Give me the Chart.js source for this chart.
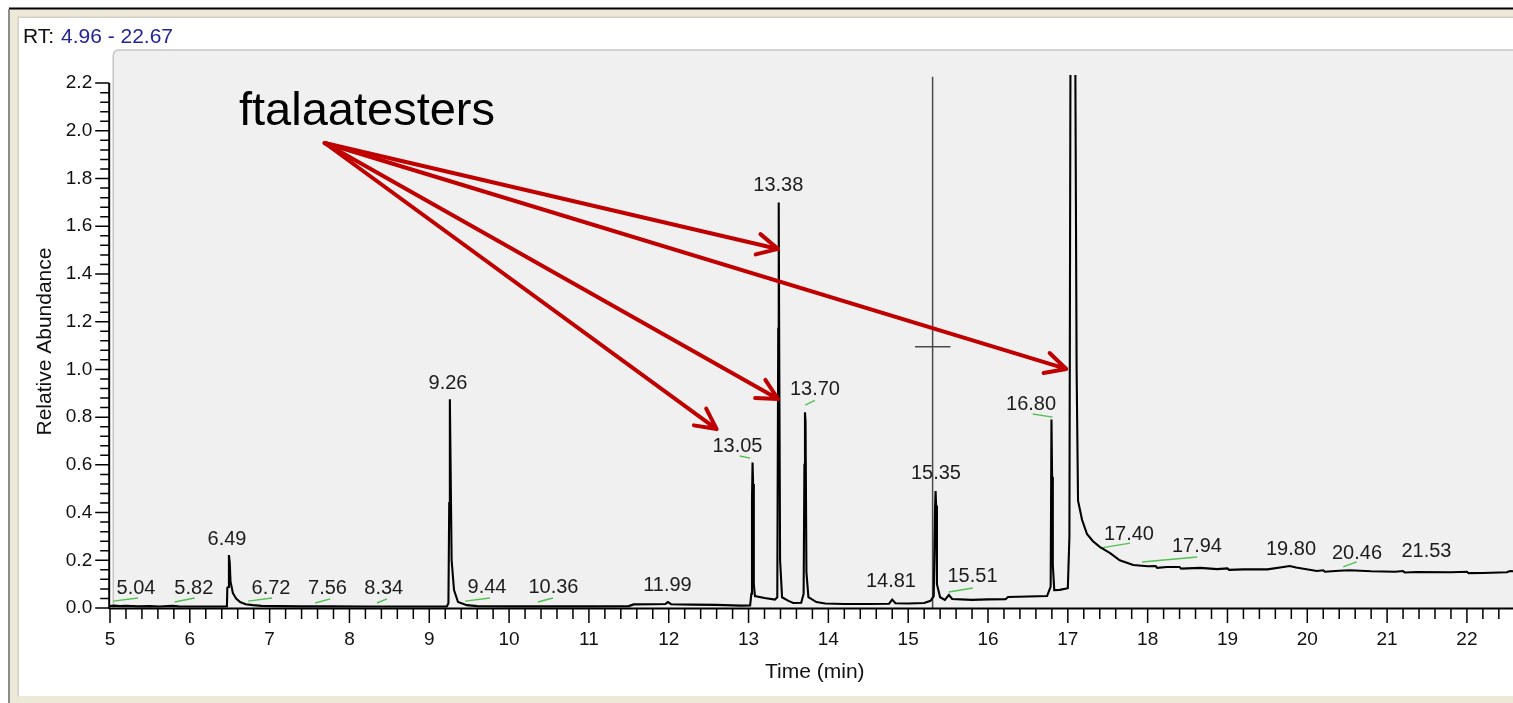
<!DOCTYPE html>
<html>
<head>
<meta charset="utf-8">
<title>Chromatogramme</title>
<script src="https://cdn.jsdelivr.net/npm/chart.js@4.4.1/dist/chart.umd.min.js"></script>
<style>
    html, body { margin: 0; padding: 0; background: #fff; overflow: hidden; }
    #cadre { width: 1524px; height: 703px; }
</style>
</head>
<body>
<div id="cadre"><canvas id="chromatogramme" width="1524" height="703"></canvas></div>
<script>
// Signal (retention time in min, relative abundance)
const retentionTimes = [
    4.99, 5.05, 5.12, 5.20, 5.35, 5.50, 5.62, 5.78, 5.86, 6.00, 6.20, 6.40,
    6.465, 6.47, 6.485, 6.49, 6.50, 6.51, 6.54, 6.58, 6.63, 6.70, 6.79, 6.90,
    7.10, 7.40, 7.80, 8.20, 8.60, 9.00, 9.22, 9.24, 9.25, 9.258, 9.265, 9.28,
    9.31, 9.36, 9.47, 9.60, 10.00, 10.50, 11.00, 11.50, 11.56, 11.80, 11.96, 11.99,
    12.03, 12.30, 12.60, 12.90, 13.02, 13.035, 13.043, 13.05, 13.057, 13.066, 13.08, 13.20,
    13.33, 13.36, 13.372, 13.378, 13.384, 13.395, 13.42, 13.50, 13.56, 13.66, 13.69, 13.70,
    13.707, 13.714, 13.725, 13.75, 13.85, 13.96, 14.20, 14.50, 14.76, 14.80, 14.84, 15.00,
    15.20, 15.28, 15.32, 15.335, 15.343, 15.35, 15.36, 15.40, 15.46, 15.51, 15.55, 15.80,
    16.00, 16.22, 16.25, 16.50, 16.74, 16.785, 16.795, 16.803, 16.812, 16.83, 16.90, 17.00,
    17.02, 17.035, 17.09, 17.11, 17.128, 17.178, 17.24, 17.315, 17.40, 17.53, 17.65, 17.82,
    18.00, 18.10, 18.12, 18.24, 18.40, 18.42, 18.66, 18.87, 19.00, 19.02, 19.20, 19.50,
    19.70, 19.78, 19.86, 20.12, 20.20, 20.22, 20.40, 20.53, 20.80, 21.10, 21.20, 21.22,
    21.37, 21.80, 22.00, 22.02, 22.20, 22.50, 22.54, 22.67
]
const abundance = [
    0.008, 0.010, 0.008, 0.009, 0.007, 0.008, 0.006, 0.009, 0.007, 0.006, 0.006, 0.006,
    0.007, 0.085, 0.088, 0.222, 0.190, 0.110, 0.062, 0.040, 0.025, 0.016, 0.012, 0.009,
    0.008, 0.007, 0.007, 0.006, 0.006, 0.006, 0.006, 0.020, 0.440, 0.875, 0.660, 0.200,
    0.075, 0.025, 0.012, 0.008, 0.007, 0.007, 0.007, 0.008, 0.015, 0.016, 0.017, 0.025,
    0.016, 0.014, 0.013, 0.010, 0.011, 0.060, 0.450, 0.610, 0.520, 0.100, 0.050, 0.042,
    0.035, 0.045, 1.170, 1.700, 1.100, 0.200, 0.045, 0.030, 0.021, 0.022, 0.060, 0.600,
    0.820, 0.780, 0.150, 0.046, 0.025, 0.019, 0.017, 0.017, 0.018, 0.035, 0.020, 0.019,
    0.021, 0.030, 0.050, 0.400, 0.490, 0.430, 0.100, 0.045, 0.034, 0.055, 0.038, 0.034,
    0.036, 0.037, 0.046, 0.048, 0.050, 0.090, 0.790, 0.550, 0.180, 0.075, 0.076, 0.083,
    0.300, 2.600, 2.600, 1.000, 0.450, 0.370, 0.310, 0.280, 0.256, 0.230, 0.200, 0.180,
    0.175, 0.176, 0.168, 0.172, 0.172, 0.165, 0.168, 0.163, 0.166, 0.160, 0.162, 0.162,
    0.172, 0.176, 0.170, 0.155, 0.158, 0.152, 0.156, 0.158, 0.154, 0.152, 0.155, 0.149,
    0.151, 0.150, 0.152, 0.146, 0.147, 0.150, 0.155, 0.152
]

const xTicks = [5, 6, 7, 8, 9, 10, 11, 12, 13, 14, 15, 16, 17, 18, 19, 20, 21, 22]
const yTicks = [0, 0.2, 0.4, 0.6, 0.8, 1.0, 1.2, 1.4, 1.6, 1.8, 2.0, 2.2]

// Peak labels (text, and where the label sits in data units)
const peakLabels = ["5.04", "5.82", "6.49", "6.72", "7.56", "8.34", "9.26", "9.44", "10.36", "11.99", "13.05",
    "13.38", "13.70", "14.81", "15.35", "15.51", "16.80", "17.40", "17.94", "19.80", "20.46", "21.53"]
const labelTimes = [5.326, 6.05, 6.466, 7.017, 7.725, 8.43, 9.235, 9.723, 10.556, 11.984, 12.861,
    13.373, 13.832, 14.784, 15.348, 15.806, 16.539, 17.766, 18.618, 19.796, 20.623, 21.493]
const labelLevels = [0.080, 0.080, 0.287, 0.080, 0.080, 0.080, 0.943, 0.088, 0.088, 0.096, 0.677,
    1.771, 0.916, 0.111, 0.562, 0.130, 0.855, 0.310, 0.256, 0.247, 0.230, 0.235]

// Green peak marks
const markStart = [[5.04, 0.029], [5.81, 0.025], [6.73, 0.029], [7.57, 0.021], [8.345, 0.021], [9.45, 0.029], [10.36, 0.025],
    [12.89, 0.637], [13.71, 0.85], [15.51, 0.067], [16.56, 0.813], [17.40, 0.251], [17.93, 0.193], [20.45, 0.172]]
const markEnd = [[5.35, 0.042], [6.06, 0.042], [7.03, 0.042], [7.76, 0.038], [8.47, 0.038], [9.76, 0.042], [10.55, 0.042],
    [13.02, 0.628], [13.83, 0.87], [15.81, 0.084], [16.81, 0.80], [17.78, 0.272], [18.62, 0.214], [20.62, 0.193]]

// Cursor
const cursorTime = 15.306
const cursorTop = 2.227
const crossBar = [15.085, 15.53, 1.095]

// Annotation "ftalaatesters" and its arrows
const annotationText = "ftalaatesters"
const annotationAt = [6.616, 2.024]
const arrowFrom = [7.69, 1.949]
const arrowTips = [[13.37, 1.505], [16.98, 1.002], [13.37, 0.876], [12.60, 0.750]]

const police = "'Liberation Sans', Arial, sans-serif"

const signal = retentionTimes.map((t, i) => ({x: t, y: abundance[i]}))

const datasets = [{
    data: signal,
    borderColor: "#000",
    borderWidth: 2.1,
    pointRadius: 0,
    tension: 0,
}]

for (let i = 0; i < markStart.length; i++) {
    datasets.push({
        data: [{x: markStart[i][0], y: markStart[i][1]}, {x: markEnd[i][0], y: markEnd[i][1]}],
        borderColor: "#52c152",
        borderWidth: 1.4,
        pointRadius: 0,
    })
}

datasets.push({
    data: [{x: cursorTime, y: 0}, {x: cursorTime, y: cursorTop}],
    borderColor: "#4a4a4a",
    borderWidth: 1.5,
    pointRadius: 0,
})
datasets.push({
    data: [{x: crossBar[0], y: crossBar[2]}, {x: crossBar[1], y: crossBar[2]}],
    borderColor: "#4a4a4a",
    borderWidth: 1.5,
    pointRadius: 0,
})

// Window frame, grey plot area and the RT line
const fondPlugin = {
    id: "fond",
    beforeDraw(chart) {
        const {ctx, width, height, chartArea} = chart
        ctx.save()
        ctx.fillStyle = "#fff"
        ctx.fillRect(0, 0, width, height)

        ctx.fillStyle = "#ece9d8"
        ctx.fillRect(9, 9, width, 8)
        ctx.fillRect(9, 9, 9, height)
        ctx.fillRect(9, 696, width, 7)
        ctx.fillStyle = "#000"
        ctx.fillRect(9, 7.5, width, 2)
        ctx.fillStyle = "#8c8c8c"
        ctx.fillRect(8, 9, 2, height)
        ctx.fillStyle = "#d2d0c6"
        ctx.fillRect(18, 16.5, width, 1.5)
        ctx.fillRect(17.5, 16.5, 1.5, 680)

        const left = chartArea.left + 4
        const top = chartArea.top - 25
        const bottom = chartArea.bottom
        const r = 6
        ctx.beginPath()
        ctx.moveTo(left, bottom)
        ctx.lineTo(left, top + r)
        ctx.quadraticCurveTo(left, top, left + r, top)
        ctx.lineTo(width, top)
        ctx.lineTo(width, bottom)
        ctx.closePath()
        ctx.fillStyle = "#f0f0f0"
        ctx.fill()
        ctx.beginPath()
        ctx.moveTo(left, bottom)
        ctx.lineTo(left, top + r)
        ctx.quadraticCurveTo(left, top, left + r, top)
        ctx.lineTo(width, top)
        ctx.strokeStyle = "#c6c6c6"
        ctx.lineWidth = 1.5
        ctx.stroke()

        ctx.font = "21px " + police
        ctx.textBaseline = "alphabetic"
        ctx.textAlign = "left"
        ctx.fillStyle = "#111"
        ctx.fillText("RT:", 23, 43)
        const w = ctx.measureText("RT: ").width
        ctx.fillStyle = "#23239c"
        ctx.fillText("4.96 - 22.67", 23 + w + 1, 43)
        ctx.restore()
    }
}

// Axes, tick marks, peak labels, arrows
const dessinPlugin = {
    id: "dessin",
    afterDatasetsDraw(chart) {
        const {ctx, chartArea, width} = chart
        const xs = chart.scales.x
        const ys = chart.scales.y
        ctx.save()

        ctx.strokeStyle = "#000"
        ctx.lineWidth = 2
        ctx.beginPath()
        ctx.moveTo(chartArea.left, chartArea.bottom + 0.5)
        ctx.lineTo(width, chartArea.bottom + 0.5)
        ctx.moveTo(chartArea.left, chartArea.bottom + 1)
        ctx.lineTo(chartArea.left, ys.getPixelForValue(2.2))
        ctx.stroke()

        ctx.lineWidth = 1.5
        ctx.beginPath()
        for (let i = 25; i <= 113; i++) {
            const px = xs.getPixelForValue(i / 5)
            ctx.moveTo(px, chartArea.bottom + 1)
            ctx.lineTo(px, chartArea.bottom + (i % 5 === 0 ? 15 : 11))
        }
        for (let i = 0; i <= 55; i++) {
            const py = ys.getPixelForValue(i * 0.04)
            ctx.moveTo(chartArea.left, py)
            ctx.lineTo(chartArea.left - (i % 5 === 0 ? 14 : 9), py)
        }
        ctx.stroke()

        ctx.font = "20px " + police
        ctx.fillStyle = "#1c1c1c"
        ctx.textAlign = "center"
        ctx.textBaseline = "middle"
        for (let i = 0; i < peakLabels.length; i++) {
            ctx.fillText(peakLabels[i], xs.getPixelForValue(labelTimes[i]), ys.getPixelForValue(labelLevels[i]))
        }

        ctx.font = "47px " + police
        ctx.fillStyle = "#000"
        ctx.textAlign = "left"
        ctx.textBaseline = "alphabetic"
        ctx.fillText(annotationText, xs.getPixelForValue(annotationAt[0]), ys.getPixelForValue(annotationAt[1]))

        const ox = xs.getPixelForValue(arrowFrom[0])
        const oy = ys.getPixelForValue(arrowFrom[1])
        ctx.strokeStyle = "#c00000"
        ctx.lineWidth = 4
        ctx.lineCap = "round"
        ctx.lineJoin = "round"
        for (let tip of arrowTips) {
            const tx = xs.getPixelForValue(tip[0])
            const ty = ys.getPixelForValue(tip[1])
            const a = Math.atan2(ty - oy, tx - ox)
            ctx.beginPath()
            ctx.moveTo(ox, oy)
            ctx.lineTo(tx, ty)
            ctx.moveTo(tx - 23 * Math.cos(a - 0.47), ty - 23 * Math.sin(a - 0.47))
            ctx.lineTo(tx, ty)
            ctx.lineTo(tx - 23 * Math.cos(a + 0.47), ty - 23 * Math.sin(a + 0.47))
            ctx.stroke()
        }
        ctx.restore()
    }
}

Chart.defaults.font.family = police

const config = {
    type: "line",
    data: {datasets: datasets},
    options: {
        responsive: false,
        animation: false,
        devicePixelRatio: 1,
        events: [],
        layout: {padding: {left: 0, top: 75, right: 3.6, bottom: 15}},
        plugins: {legend: {display: false}, tooltip: {enabled: false}},
        scales: {
            x: {
                type: "linear",
                min: 4.99,
                max: 22.67,
                grid: {display: false, drawTicks: false},
                border: {display: false},
                afterBuildTicks: axis => { axis.ticks = xTicks.map(v => ({value: v})) },
                afterFit: axis => { axis.height = 80 },
                ticks: {
                    autoSkip: false,
                    maxRotation: 0,
                    padding: 20.6,
                    color: "#111",
                    font: {size: 19},
                    callback: v => String(v),
                },
                title: {display: true, text: "Time (min)", color: "#111", font: {size: 21}, padding: {top: 0, bottom: 3.4}},
            },
            y: {
                min: 0,
                max: 2.234,
                grid: {display: false, drawTicks: false},
                border: {display: false},
                afterBuildTicks: axis => { axis.ticks = yTicks.map(v => ({value: v})) },
                afterFit: axis => { axis.width = 109.2 },
                ticks: {
                    autoSkip: false,
                    padding: 17,
                    color: "#111",
                    font: {size: 19},
                    callback: v => Number(v).toFixed(1),
                },
                title: {display: true, text: "Relative Abundance", color: "#111", font: {size: 21}, padding: {top: 32.4, bottom: 0}},
            },
        },
    },
    plugins: [fondPlugin, dessinPlugin],
}

const graphique = new Chart(document.querySelector("#chromatogramme"), config)
</script>
</body>
</html>
